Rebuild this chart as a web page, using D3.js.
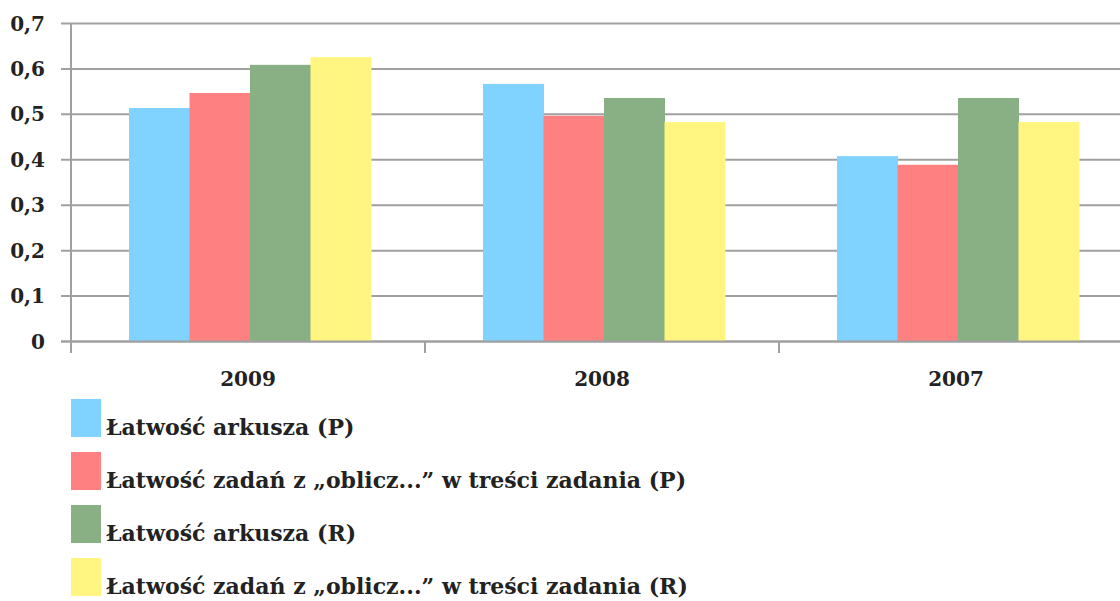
<!DOCTYPE html>
<html lang="pl">
<head>
	<meta charset="UTF-8">
	<title>Łatwość arkusza</title>
	<script src="https://d3js.org/d3.v7.min.js"></script>
	<style>
		body { margin: 0; background: #fff; }
		svg text { font-family: "DejaVu Serif", "Liberation Serif", serif; font-weight: bold; fill: #222; }
	</style>
</head>
<body>
	<svg id="chart" width="1120" height="601"></svg>

	<script>
		var years = ["2009", "2008", "2007"];
		var seriesNames = [
			"Łatwość arkusza (P)",
			"Łatwość zadań z „oblicz...” w treści zadania (P)",
			"Łatwość arkusza (R)",
			"Łatwość zadań z „oblicz...” w treści zadania (R)"
		];
		var seriesColours = ["#80d2ff", "#ff8080", "#88b084", "#fff580"];
		var arkuszP = [0.514, 0.567, 0.408];
		var obliczP = [0.547, 0.497, 0.389];
		var arkuszR = [0.609, 0.536, 0.536];
		var obliczR = [0.626, 0.483, 0.483];
		var yTicks = [0, 0.1, 0.2, 0.3, 0.4, 0.5, 0.6, 0.7];

		var seriesValues = [arkuszP, obliczP, arkuszR, obliczR];
		var svg = d3.select("#chart");

		var x = d3.scaleBand().domain(years).range([71, 1133]).padding(0);
		var xs = d3.scaleBand().domain(d3.range(4)).range([58, 300]).padding(0);
		var y = d3.scaleLinear().domain([0, 0.7]).range([341.5, 23.5]);

		// gridlines + y ticks
		var grid = svg.append("g");
		grid.selectAll("line").data(yTicks).enter().append("line")
			.attr("x1", 61).attr("x2", 1120)
			.attr("y1", function(d) {return y(d)}).attr("y2", function(d) {return y(d)})
			.attr("stroke", "#a0a0a0").attr("stroke-width", 2);

		grid.selectAll("text").data(yTicks).enter().append("text")
			.attr("x", 45).attr("y", function(d) {return y(d) + 7})
			.attr("text-anchor", "end").style("font-size", "20px")
			.text(function(d) {return d3.format(".1f")(d).replace(".", ",").replace(/^0,0$/, "0")});

		// bars
		var groups = svg.selectAll("g.year").data(years).enter().append("g")
			.attr("class", "year")
			.attr("transform", function(d) {return "translate(" + x(d) + ",0)"});

		groups.selectAll("rect").data(function(d, i) {
			return seriesValues.map(function(s, k) {return {k: k, v: s[i]}});
		}).enter().append("rect")
			.attr("x", function(d) {return xs(d.k)})
			.attr("width", xs.bandwidth() + 0.5)
			.attr("y", function(d) {return y(d.v)})
			.attr("height", function(d) {return y(0) - y(d.v)})
			.attr("fill", function(d) {return seriesColours[d.k]});

		// axes lines
		svg.append("line").attr("x1", 71).attr("x2", 71).attr("y1", 23.5).attr("y2", 353)
			.attr("stroke", "#a0a0a0").attr("stroke-width", 2);
		svg.append("line").attr("x1", 61).attr("x2", 1120).attr("y1", y(0)).attr("y2", y(0))
			.attr("stroke", "#a0a0a0").attr("stroke-width", 2);
		svg.selectAll("line.xtick").data([425, 779]).enter().append("line")
			.attr("class", "xtick")
			.attr("x1", function(d) {return d}).attr("x2", function(d) {return d})
			.attr("y1", y(0)).attr("y2", 353)
			.attr("stroke", "#a0a0a0").attr("stroke-width", 2);

		svg.selectAll("text.year").data(years).enter().append("text")
			.attr("class", "year")
			.attr("x", function(d) {return x(d) + x.bandwidth() / 2})
			.attr("y", 386)
			.attr("text-anchor", "middle").style("font-size", "20px")
			.text(function(d) {return d});

		// legend
		var legend = svg.selectAll("g.legend").data(seriesNames).enter().append("g")
			.attr("class", "legend")
			.attr("transform", function(d, i) {return "translate(71," + (399 + i * 53) + ")"});
		legend.append("rect").attr("width", 30).attr("height", 38)
			.attr("fill", function(d, i) {return seriesColours[i]});
		legend.append("text").attr("x", 35).attr("y", 36)
			.style("font-size", "22px")
			.text(function(d) {return d});
	</script>
</body>
</html>
